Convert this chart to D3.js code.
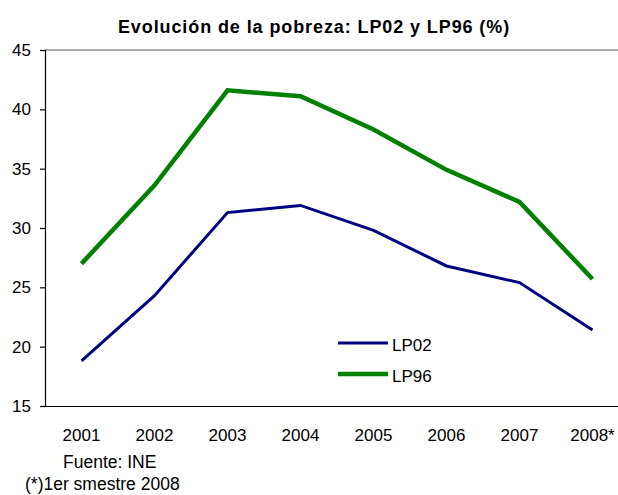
<!DOCTYPE html>
<html>
<head>
<meta charset="utf-8">
<script src="https://cdn.jsdelivr.net/npm/d3@7"></script>
<style>
  body { margin: 0; background: #fff; }
  text { font-family: "Liberation Sans", Arial, sans-serif; }
</style>
</head>
<body>
<div id="chart"></div>
<script>
const years = ["2001", "2002", "2003", "2004", "2005", "2006", "2007", "2008*"];
const lp02 = [18.8, 24.3, 31.3, 31.9, 29.8, 26.8, 25.4, 21.4];
const lp96 = [27.0, 33.6, 41.6, 41.1, 38.3, 34.9, 32.2, 25.7];
const yTicks = [15, 20, 25, 30, 35, 40, 45];

const W = 618, H = 495;
const plot = {left: 45, top: 50, bottom: 406, right: 629};

const svg = d3.select("#chart").append("svg")
  .attr("width", W)
  .attr("height", H);

const x = d3.scaleBand()
  .domain(years)
  .range([plot.left, plot.right]);

const y = d3.scaleLinear()
  .domain([15, 45])
  .range([plot.bottom, plot.top]);

// plot area top border
svg.append("line")
  .attr("x1", plot.left).attr("x2", W)
  .attr("y1", y(45)).attr("y2", y(45))
  .attr("stroke", "#909090")
  .attr("stroke-width", 1.5);

// y axis
const yAxis = svg.append("g")
  .attr("transform", `translate(${plot.left},0)`)
  .call(d3.axisLeft(y).tickValues(yTicks).tickSize(5).tickPadding(9));
yAxis.selectAll("text")
  .attr("font-size", 17)
  .attr("fill", "#000");
yAxis.selectAll("line, path").attr("stroke", "#000").attr("stroke-width", 1.2);

// x axis
const xAxis = svg.append("g")
  .attr("transform", `translate(0,${plot.bottom})`)
  .call(d3.axisBottom(x).tickSize(0).tickPadding(23));
xAxis.select(".domain").attr("stroke", "#000").attr("stroke-width", 1.2);
xAxis.selectAll("text")
  .attr("font-size", 17)
  .attr("fill", "#000");

const line = d3.line()
  .x((d, i) => x(years[i]) + x.bandwidth() / 2)
  .y(d => y(d));

svg.append("path")
  .datum(lp96)
  .attr("fill", "none")
  .attr("stroke", "#008000")
  .attr("stroke-width", 4.5)
  .attr("d", line);

svg.append("path")
  .datum(lp02)
  .attr("fill", "none")
  .attr("stroke", "#000080")
  .attr("stroke-width", 3)
  .attr("d", line);

// legend
const legend = [
  {name: "LP02", color: "#000080", w: 3, y: 343},
  {name: "LP96", color: "#008000", w: 4.5, y: 374}
];
legend.forEach(l => {
  svg.append("line")
    .attr("x1", 338).attr("x2", 388)
    .attr("y1", l.y).attr("y2", l.y)
    .attr("stroke", l.color)
    .attr("stroke-width", l.w);
  svg.append("text")
    .attr("x", 392).attr("y", l.y + 8)
    .attr("font-size", 17)
    .text(l.name);
});

// title
svg.append("text")
  .attr("x", 314).attr("y", 32.5)
  .attr("text-anchor", "middle")
  .attr("font-size", 18)
  .attr("font-weight", "bold")
  .attr("letter-spacing", 0.9)
  .text("Evolución de la pobreza: LP02 y LP96 (%)");

// notes
svg.append("text")
  .attr("x", 63).attr("y", 468)
  .attr("font-size", 17.5)
  .text("Fuente: INE");
svg.append("text")
  .attr("x", 25).attr("y", 490)
  .attr("font-size", 17.5)
  .text("(*)1er smestre 2008");
</script>
</body>
</html>
